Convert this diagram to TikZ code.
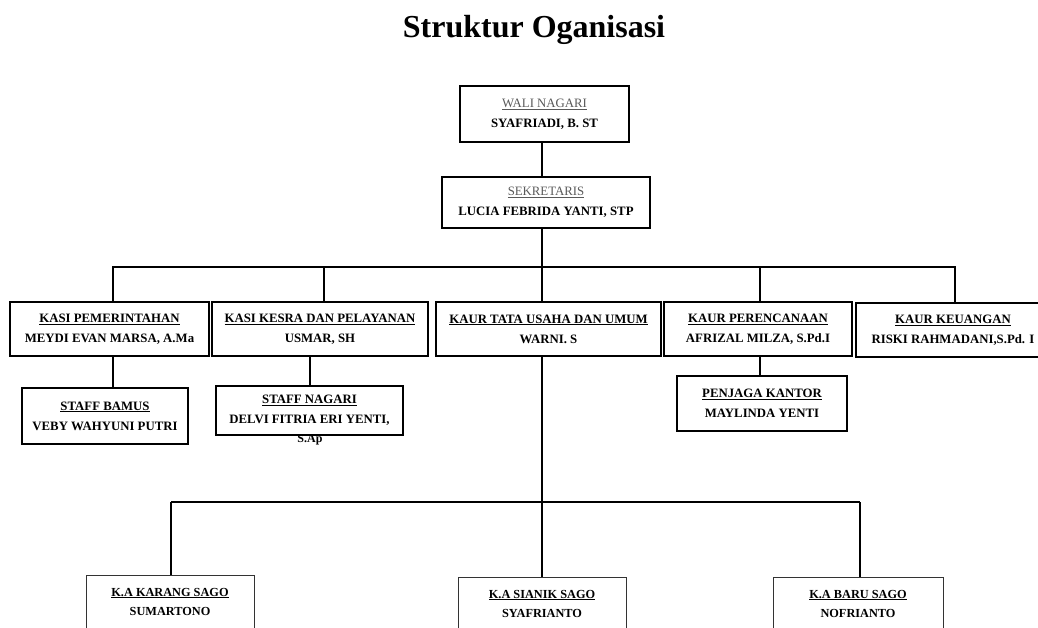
\documentclass[tikz,border=0pt]{standalone}
\usepackage{fontspec}
\setmainfont{Liberation Serif}
\usetikzlibrary{positioning}

\begin{document}
\begin{tikzpicture}[x=1pt,y=-1pt,
box/.style={draw,line width=1.3pt,align=center,inner sep=0pt,font=\bfseries\fontsize{12.8}{20}\selectfont},
sago/.style={box,line width=1pt,draw=black!80,minimum height=72,font=\bfseries\fontsize{12.3}{19}\selectfont},
conn/.style={line width=1.7pt},
sagobar/.style={line width=2pt},
sagoline/.style={line width=1.2pt}]
\useasboundingbox (0,0) rectangle (1038,627);
\clip (0,0) rectangle (1038,627);
\node[font=\bfseries\fontsize{32}{36}\selectfont,anchor=base](title) at (534,37){Struktur Oganisasi};
% pimpinan
\node[box,minimum width=169,minimum height=56](wali) at (544.5,114){\mdseries\color{black!65}\underline{WALI NAGARI}\\SYAFRIADI, B. ST};
\node[box,minimum width=208,minimum height=51](sek) at (546,202.5){\mdseries\color{black!65}\underline{SEKRETARIS}\\LUCIA FEBRIDA YANTI, STP};
% kasi dan kaur
\node[box,minimum width=199,minimum height=54](kpem) at (109.5,329){\underline{KASI PEMERINTAHAN}\\MEYDI EVAN MARSA, A.Ma};
\node[box,minimum width=216,minimum height=54](kkes) at (320,329){\underline{KASI KESRA DAN PELAYANAN}\\USMAR, SH};
\node[box,minimum width=225,minimum height=54](ktu) at (548.5,329){\underline{KAUR TATA USAHA DAN UMUM}\\WARNI. S};
\node[box,minimum width=188,minimum height=54](kper) at (758,329){\underline{KAUR PERENCANAAN}\\AFRIZAL MILZA, S.Pd.I};
\node[box,minimum width=194,minimum height=54](kkeu) at (953,330){\underline{KAUR KEUANGAN}\\RISKI RAHMADANI,S.Pd. I};
% staff
\node[box,minimum width=166,minimum height=56](bamus) at (105,416){\underline{STAFF BAMUS}\\VEBY WAHYUNI PUTRI};
\node[box,minimum width=187,minimum height=49](snag) at (309.5,410.5){\underline{STAFF NAGARI}\\DELVI FITRIA ERI YENTI,};
\node[font=\bfseries\fontsize{12}{14}\selectfont](snagx) at (310,440){S.Ap};
\node[box,minimum width=170,minimum height=55](pjg) at (762,403.5){\underline{PENJAGA KANTOR}\\MAYLINDA YENTI};
% kepala jorong
\node[sago,minimum width=168](karang) at (170,611){\underline{K.A KARANG SAGO}\\SUMARTONO\\~};
\node[sago,minimum width=168](sianik) at (542,613){\underline{K.A SIANIK SAGO}\\SYAFRIANTO\\~};
\node[sago,minimum width=170](baru) at (858,613){\underline{K.A BARU SAGO}\\NOFRIANTO\\~};
\coordinate (bar) at (542,267);
\coordinate (bar2) at (542,502);
\draw[conn](wali.south -| bar)--(sek.north -| bar);
\draw[conn](sek.south -| bar)--(bar);
\draw[conn]([xshift=3.5]kpem.north)|-([xshift=2]kkeu.north |- bar)--([xshift=2]kkeu.north);
\draw[conn]([xshift=4]kkes.north)--([xshift=4]kkes.north |- bar);
\draw[conn](bar)--(ktu.north -| bar);
\draw[conn]([xshift=2]kper.north)--([xshift=2]kper.north |- bar);
\draw[conn]([xshift=3.5]kpem.south)--([xshift=3.5]kpem.south |- bamus.north);
\draw[conn]([xshift=0.5]snag.north)--([xshift=0.5]snag.north |- kkes.south);
\draw[conn]([xshift=2]kper.south)--([xshift=2]kper.south |- pjg.north);
\draw[conn](ktu.south -| bar)--(bar2);
\draw[sagobar]([xshift=1]karang.north |- bar2)--([xshift=2]baru.north |- bar2);
\draw[sagoline]([xshift=1]karang.north)--([xshift=1]karang.north |- bar2);
\draw[sagoline](bar2)--(sianik.north -| bar2);
\draw[sagoline]([xshift=2]baru.north)--([xshift=2]baru.north |- bar2);
\end{tikzpicture}
\end{document}
